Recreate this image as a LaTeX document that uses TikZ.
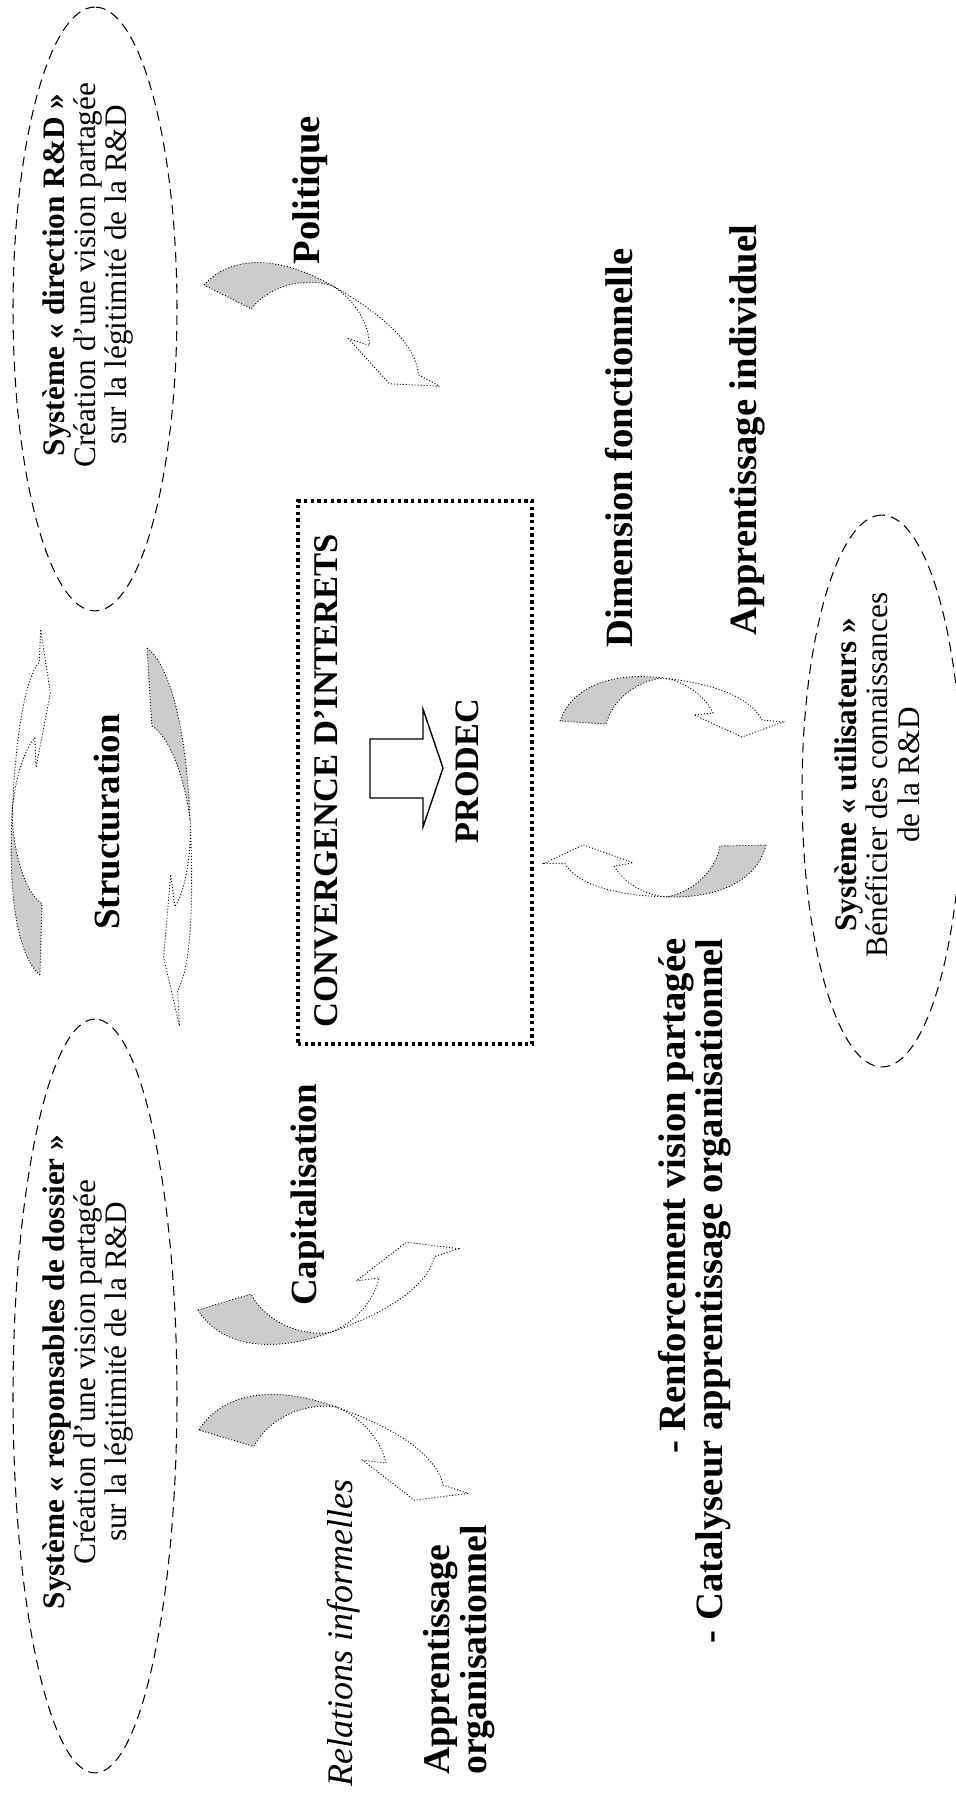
\documentclass[tikz,border=0pt]{standalone}
\usepackage{fontspec}
\setmainfont{Liberation Serif}
\usetikzlibrary{shapes.geometric}

\begin{document}
\begin{tikzpicture}[x=0.02cm,y=-0.02cm]
\tikzstyle{sysell}=[draw,ellipse,rotate=90,inner sep=0pt,line width=0.6pt,dash pattern=on 5.5pt off 3.5pt]
\tikzstyle{systext}=[rotate=90,inner sep=0pt,align=center,font=\fontsize{17.8}{17.9}\selectfont]
\tikzstyle{tag}=[rotate=90,inner sep=0pt,font=\fontsize{22}{21}\selectfont\bfseries]
\tikzstyle{convbox}=[draw,rectangle,line width=1.9pt,dash pattern=on 1.9pt off 1.9pt,minimum width=4.68cm,minimum height=10.86cm]
\tikzstyle{twistline}=[line width=0.5pt,dash pattern=on 0.6pt off 1.1pt]
\tikzset{twist/.pic={
  \filldraw[twistline,fill=black!20] (0,0) .. controls (10,-30) and (45,-50) .. (103,-43)
    .. controls (75,-40) and (52,-20) .. (46,3) -- cycle;
  \draw[twistline] (103,-43) .. controls (150,-38) and (190,-25) .. (202,-1)
    -- (223,1) -- (182,16) -- (134,-6) -- (153,-8)
    .. controls (145,-25) and (125,-40) .. (103,-43);
}}

\useasboundingbox (0,0) rectangle (956,1798);

% the three systems
\node[sysell,minimum width=12.08cm,minimum height=3.28cm] (dir) at (95,309) {};
\node[systext] (dirtxt) at (88,275)
  {\textbf{Système « direction R\&D »}\\Création d’une vision partagée\\sur la légitimité de la R\&D};
\node[sysell,minimum width=15.08cm,minimum height=3.28cm] (resp) at (95,1396) {};
\node[systext] (resptxt) at (88,1372)
  {\textbf{Système « responsables de dossier »}\\Création d’une vision partagée\\sur la légitimité de la R\&D};
\node[sysell,minimum width=11.04cm,minimum height=3.2cm] (util) at (882,791) {};
\node[systext] (utiltxt) at (877,775)
  {\textbf{Système « utilisateurs »}\\Bénéficier des connaissances\\de la R\&D};

% convergence box
\node[convbox] (conv) at (415,772.5) {};
\node[tag,font=\fontsize{19.7}{20}\selectfont\bfseries] (convtxt) at (326,781) {CONVERGENCE D’INTERETS};
\node[tag,font=\fontsize{19.5}{20}\selectfont\bfseries] (prodec) at (467,771) {PRODEC};
\draw[line width=0.8pt] (370,739) -- (423,739) -- (423,709) -- (443,768) -- (423,827) -- (423,798) -- (370,798) -- cycle;

% labels
\node[tag] (polit) at (310,190) {Politique};
\node[tag,font=\fontsize{21}{21}\selectfont\bfseries] (struct) at (107,822) {Structuration};
\node[tag,font=\fontsize{21}{21}\selectfont\bfseries] (capit) at (308,1195) {Capitalisation};
\node[tag] (dimf) at (619,448) {Dimension fonctionnelle};
\node[tag] (appind) at (747,430) {Apprentissage individuel};
\node[tag,align=right,anchor=east] (renf) at (695,938)
  {- Renforcement vision partagée\\- Catalyseur apprentissage organisationnel};
\node[tag,align=left,anchor=west,font=\fontsize{21.5}{18}\selectfont\bfseries] (apporg) at (459,1775) {Apprentissage\\organisationnel};
\node[rotate=90,inner sep=0pt,font=\fontsize{20.5}{20}\selectfont\itshape] (relinf) at (344,1633) {Relations informelles};

% twisted arrows
\pic[rotate=-23,scale=1.15] at (204,285) {twist};
\pic[rotate=90,xscale=1.55,yscale=0.65] at (40,975) {twist};
\pic[rotate=-85,xscale=1.7,yscale=0.65] at (147,648) {twist};
\pic[rotate=13,scale=1.2,yscale=-1] at (198,1310) {twist};
\pic[rotate=-13,scale=1.24] at (199,1430) {twist};
\pic at (560,721) {twist};
\pic[rotate=185] at (766,845) {twist};
\end{tikzpicture}
\end{document}
